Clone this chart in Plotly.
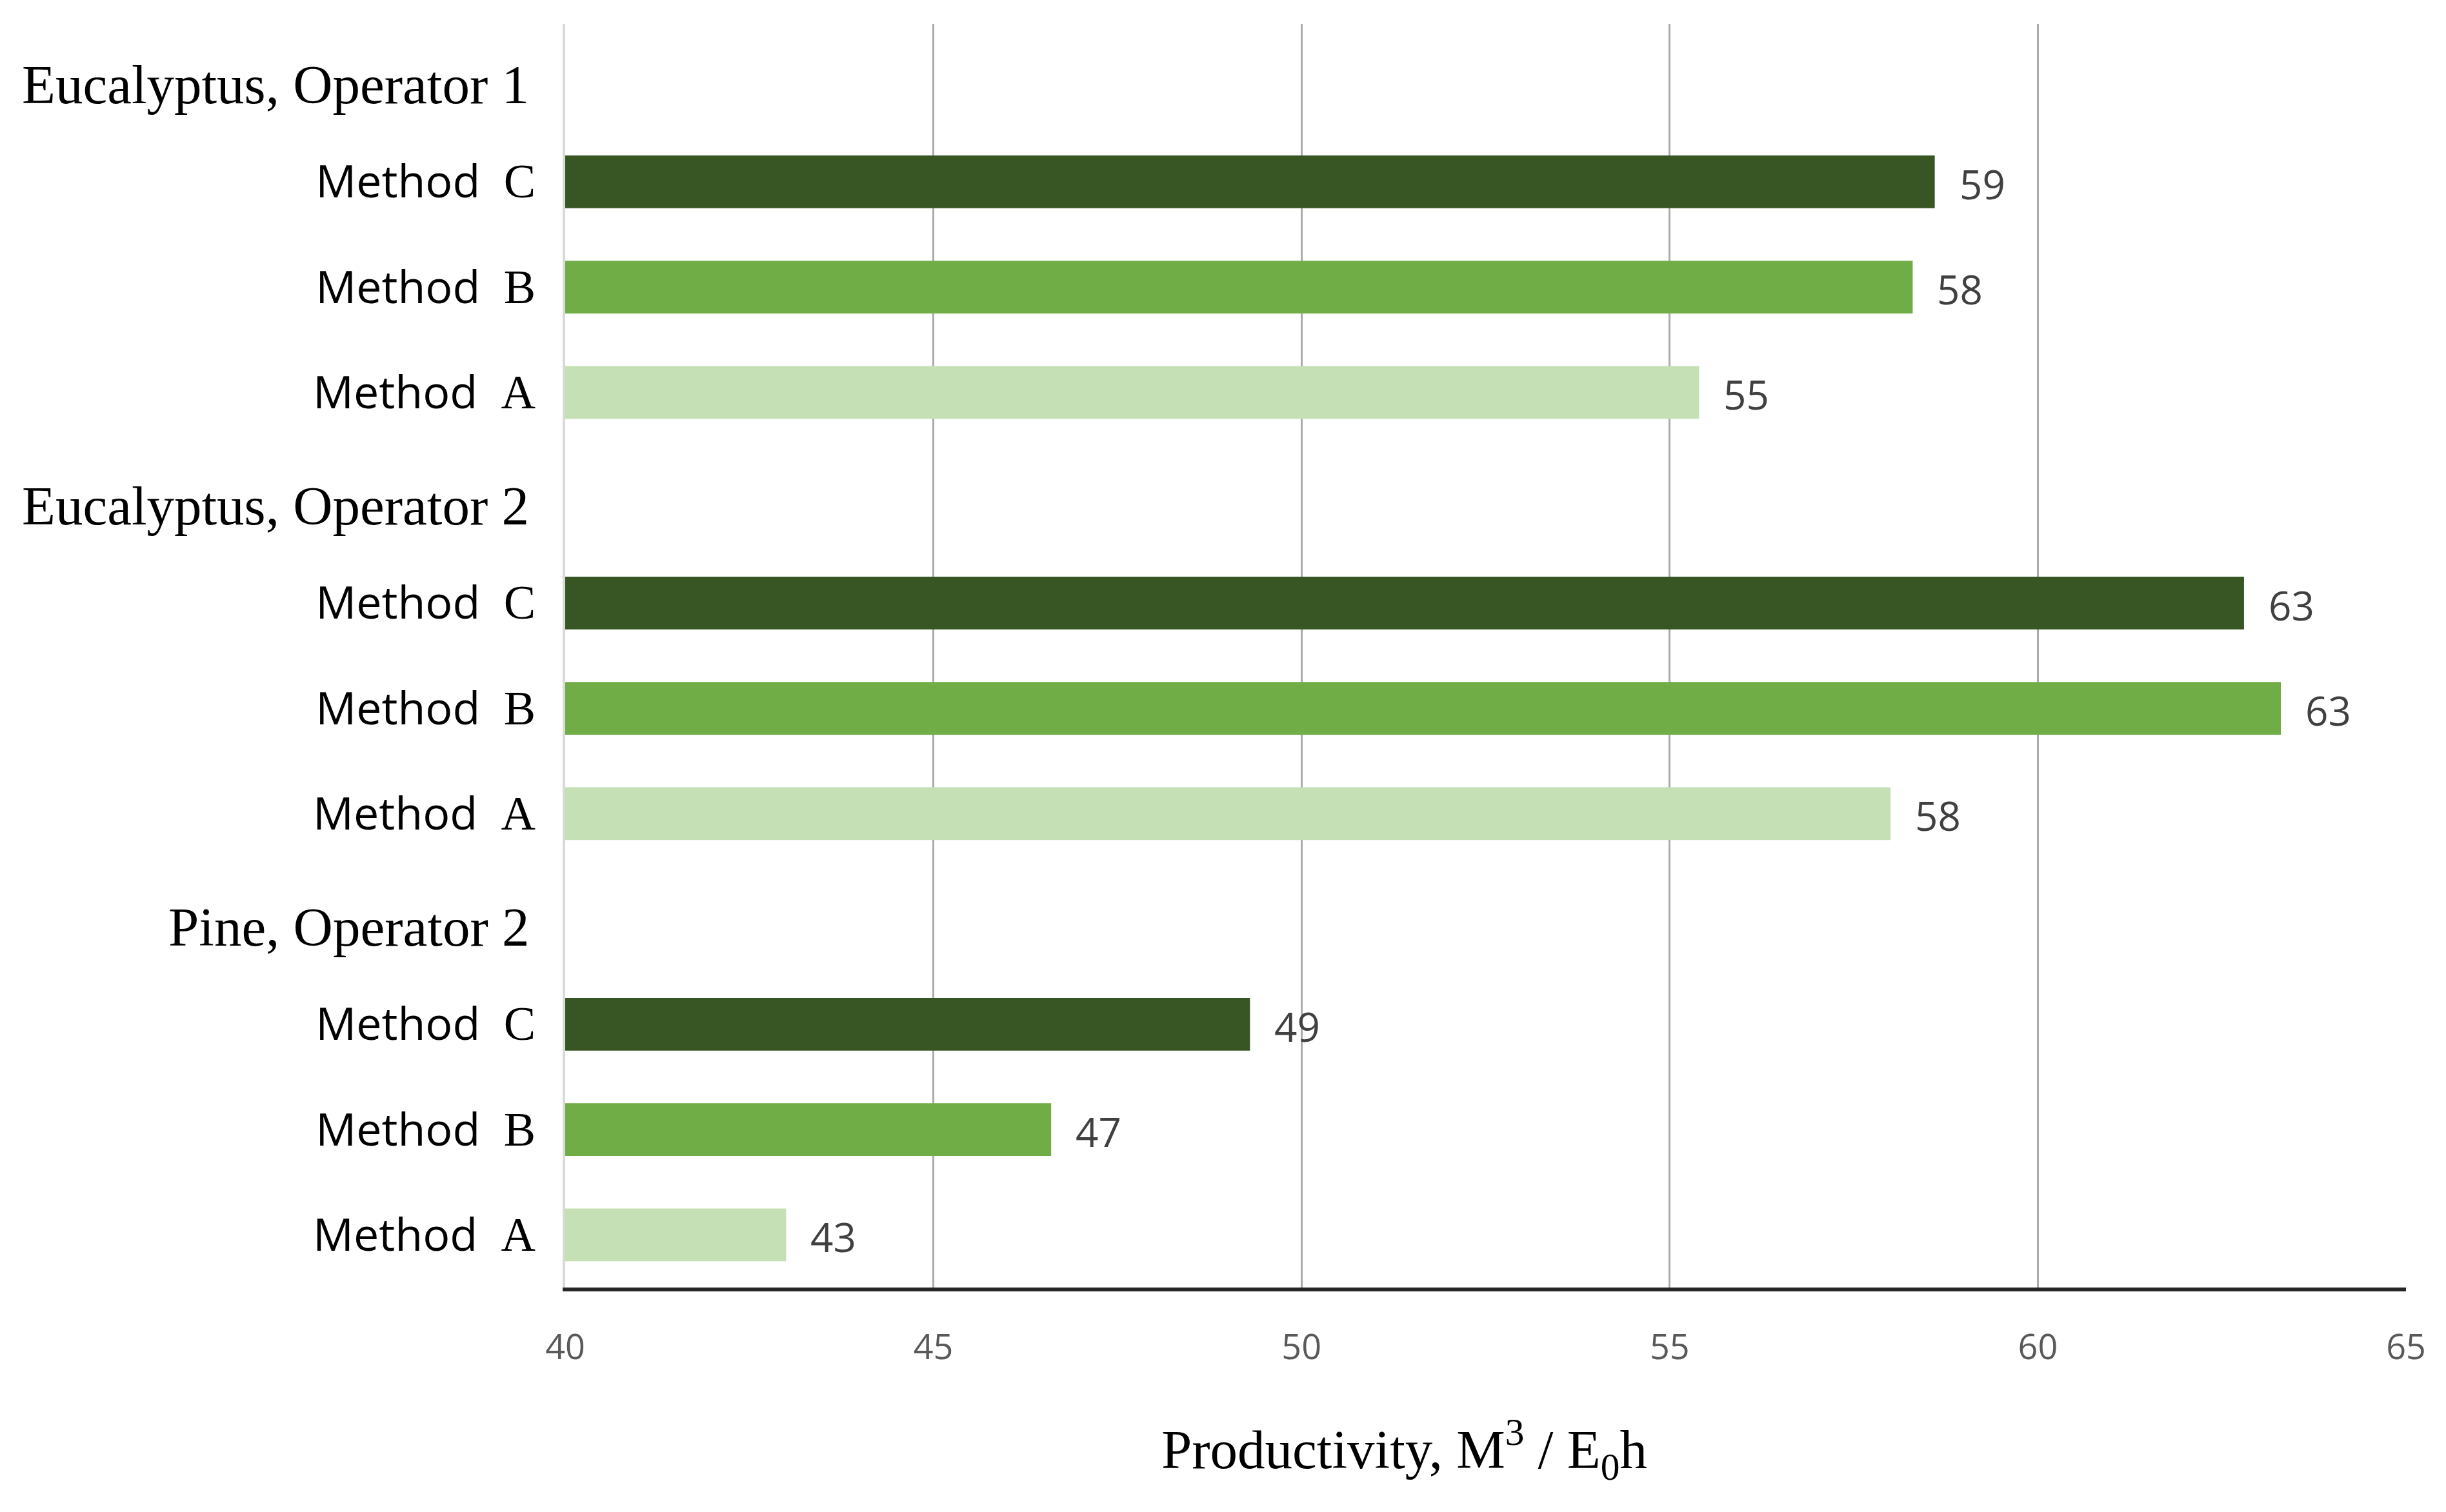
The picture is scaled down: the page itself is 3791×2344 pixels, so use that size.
import plotly.graph_objects as go

groups = ["Eucalyptus, Operator 1", "Eucalyptus, Operator 2", "Pine, Operator 2"]
methods = ["C", "B", "A"]
method_colors = {"C": "#375623", "B": "#70AD47", "A": "#C5E0B4"}
# values per group, order C, B, A
values_C = [58.6, 62.8, 49.3]
values_B = [58.3, 63.3, 46.6]
values_A = [55.4, 58.0, 43.0]
labels_C = ["59", "63", "49"]
labels_B = ["58", "63", "47"]
labels_A = ["55", "58", "43"]
x_ticks = [40, 45, 50, 55, 60, 65]

vals = {"C": values_C, "B": values_B, "A": values_A}
labs = {"C": labels_C, "B": labels_B, "A": labels_A}

SERIF = "Liberation Serif"
SANS = "Open Sans"

# build rows from top to bottom
rows = []  # (kind, group index, method)
for gi, g in enumerate(groups):
    rows.append(("header", gi, None))
    for m in methods:
        rows.append(("bar", gi, m))
n = len(rows)
ypos = {i: n - 1 - i for i in range(n)}

tickvals, ticktext = [], []
annotations = []
for i, (kind, gi, m) in enumerate(rows):
    if kind == "header":
        annotations.append(dict(
            x=0, y=ypos[i], xref="paper", yref="y", text=groups[gi],
            showarrow=False, xanchor="right", yanchor="middle",
            xshift=-54, yshift=-12,
            font=dict(family=SERIF, size=85, color="#000000"),
        ))
    else:
        tickvals.append(ypos[i])
        ticktext.append(f'Method&nbsp;&nbsp;<span style="font-family:{SERIF};font-size:74px">{m}</span>')

fig = go.Figure()
for m in methods:
    xs, ys, ts = [], [], []
    for i, (kind, gi, mm) in enumerate(rows):
        if kind == "bar" and mm == m:
            xs.append(vals[m][gi])
            ys.append(ypos[i])
            ts.append(labs[m][gi])
    fig.add_trace(go.Bar(
        x=[v - 40 for v in xs], base=40, y=ys, orientation="h",
        marker=dict(color=method_colors[m], line=dict(width=0)),
        width=0.5, name="Method " + m, showlegend=False,
        hoverinfo="skip",
    ))
    for x, y, t in zip(xs, ys, ts):
        annotations.append(dict(
            x=x, y=y, xref="x", yref="y", text=t, showarrow=False,
            xanchor="left", yanchor="middle", xshift=36, yshift=-3,
            font=dict(family=SANS, size=62, color="#404040"),
        ))

annotations.append(dict(
    x=0.456, y=-0.128, xref="paper", yref="paper",
    text="Productivity, M<sup>3</sup> / E<sub>0</sub>h",
    showarrow=False, xanchor="center", yanchor="middle",
    font=dict(family=SERIF, size=85, color="#000000"),
))

fig.update_layout(
    width=3791, height=2344,
    margin=dict(l=868, r=70, t=29, b=356),
    paper_bgcolor="white", plot_bgcolor="white",
    annotations=annotations,
    bargap=0.5,
)
fig.update_xaxes(
    range=[40, 65], tickvals=x_ticks, ticktext=[str(t) for t in x_ticks],
    showgrid=True, gridcolor="#ababab", gridwidth=3,
    showline=True, linecolor="#262626", linewidth=6,
    ticks="", ticklabelstandoff=40,
    tickfont=dict(family=SANS, size=54, color="#595959"),
    zeroline=False,
)
fig.update_yaxes(
    range=[-0.5, n - 0.5], tickvals=tickvals, ticktext=ticktext,
    showgrid=False, zeroline=False,
    showline=True, linecolor="#d9d9d9", linewidth=4,
    ticks="", ticklabelstandoff=28,
    tickfont=dict(family=SANS, size=70, color="#000000"),
)

fig.write_html("out.html")
